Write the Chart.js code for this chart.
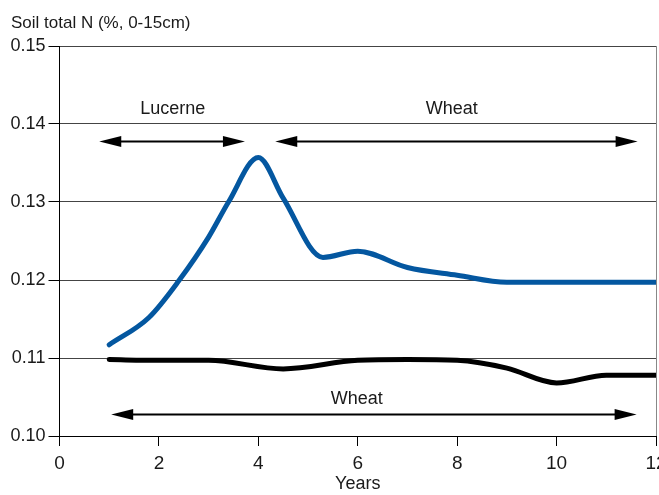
<!DOCTYPE html>
<html>
<head>
<meta charset="utf-8">
<script src="https://cdn.jsdelivr.net/npm/chart.js@4.4.1/dist/chart.umd.min.js"></script>
<style>
    html, body { margin: 0; padding: 0; background: #fff; }
    #wrap { width: 659px; height: 495px; position: relative; }
</style>
</head>
<body>
<div id="wrap"><canvas id="soilChart"></canvas></div>
<script>
// ---- data ----
var lucerneYears = [1, 1.8, 2.4, 3, 3.4, 4, 4.5, 5.3, 6, 7, 8, 9, 10, 11, 12];
var lucerneN     = [0.1117, 0.1152, 0.1199, 0.1255, 0.1300, 0.1357, 0.1305, 0.1229, 0.1237, 0.1216, 0.1206, 0.1197, 0.1197, 0.1197, 0.1197];

var wheatYears = [1, 2, 3, 4.5, 6, 7, 8, 9, 10, 11, 12];
var wheatN     = [0.1098, 0.1097, 0.1097, 0.1086, 0.1097, 0.1098, 0.1097, 0.1087, 0.1068, 0.1078, 0.1078];

var yTicks = [0.10, 0.11, 0.12, 0.13, 0.14, 0.15];
var xTicks = [0, 2, 4, 6, 8, 10, 12];

var yAxisTitle = 'Soil total N (%, 0-15cm)';
var xAxisTitle = 'Years';

// phase arrows (in data units): label, start year, end year, arrow level, label level
var phaseLabels = ['Lucerne', 'Wheat', 'Wheat'];
var phaseFrom   = [0.80, 4.34, 1.04];
var phaseTo     = [3.73, 11.63, 11.61];
var phaseArrowY = [0.1378, 0.1378, 0.1028];
var phaseTextX  = [2.28, 7.89, 5.98];
var phaseTextY  = [0.1419, 0.1419, 0.1047];

var FONT = '"Liberation Sans", Arial, sans-serif';

function toPoints(xs, ys) {
    return xs.map(function(x, i) { return { x: x, y: ys[i] }; });
}

function arrowHead(ctx, tipX, y, dir) {
    var len = 22, half = 5.5;
    ctx.beginPath();
    ctx.moveTo(tipX, y);
    ctx.lineTo(tipX - dir * len, y - half);
    ctx.lineTo(tipX - dir * len, y + half);
    ctx.closePath();
    ctx.fill();
}

var annotationsPlugin = {
    id: 'phaseAnnotations',
    afterDatasetsDraw: function(chart) {
        var ctx = chart.ctx;
        var xs = chart.scales.x, ys = chart.scales.y;
        ctx.save();
        ctx.strokeStyle = '#000';
        ctx.fillStyle = '#000';
        ctx.lineWidth = 2;
        for (var i = 0; i < phaseLabels.length; i++) {
            var x1 = xs.getPixelForValue(phaseFrom[i]);
            var x2 = xs.getPixelForValue(phaseTo[i]);
            var y = Math.round(ys.getPixelForValue(phaseArrowY[i])) + 0.5;
            ctx.beginPath();
            ctx.moveTo(x1 + 10, y);
            ctx.lineTo(x2 - 10, y);
            ctx.stroke();
            arrowHead(ctx, x1, y, -1);
            arrowHead(ctx, x2, y, 1);

            ctx.font = '18px ' + FONT;
            ctx.fillStyle = '#1a1a1a';
            ctx.textAlign = 'center';
            ctx.textBaseline = 'middle';
            ctx.fillText(phaseLabels[i], xs.getPixelForValue(phaseTextX[i]), ys.getPixelForValue(phaseTextY[i]));
            ctx.fillStyle = '#000';
        }
        // y axis title, written horizontally above the axis
        ctx.font = '17px ' + FONT;
        ctx.fillStyle = '#1a1a1a';
        ctx.textAlign = 'left';
        ctx.textBaseline = 'alphabetic';
        ctx.fillText(yAxisTitle, 11, 28);
        ctx.restore();
    }
};

var ctx = document.getElementById('soilChart').getContext('2d');
var soilChart = new Chart(ctx, {
    type: 'line',
    data: {
        datasets: [{
            label: 'Lucerne then wheat',
            data: toPoints(lucerneYears, lucerneN),
            borderColor: '#0457a0',
            borderWidth: 5,
            borderCapStyle: 'round',
            pointRadius: 0,
            cubicInterpolationMode: 'monotone',
            fill: false
        }, {
            label: 'Continuous wheat',
            data: toPoints(wheatYears, wheatN),
            borderColor: '#000',
            borderWidth: 5,
            borderCapStyle: 'round',
            pointRadius: 0,
            cubicInterpolationMode: 'monotone',
            fill: false
        }]
    },
    options: {
        responsive: true,
        maintainAspectRatio: false,
        animation: false,
        layout: { padding: { left: 0, top: 46, right: 3, bottom: 0 } },
        plugins: {
            legend: { display: false },
            tooltip: { enabled: false }
        },
        scales: {
            x: {
                type: 'linear',
                min: 0,
                max: 12,
                afterBuildTicks: function(scale) {
                    scale.ticks = xTicks.map(function(v) { return { value: v }; });
                },
                afterFit: function(scale) {
                    scale.height = 59;
                    scale.paddingRight = 0;
                    scale.paddingLeft = 0;
                },
                border: { color: '#000', width: 1 },
                grid: {
                    color: function(c) { return c.tick && c.tick.value === 12 ? '#888' : 'rgba(0,0,0,0)'; },
                    tickColor: '#000',
                    tickLength: 10,
                    lineWidth: 1
                },
                ticks: {
                    color: '#1a1a1a',
                    padding: 6,
                    font: { family: FONT, size: 19 }
                },
                title: {
                    display: true,
                    text: xAxisTitle,
                    color: '#1a1a1a',
                    padding: { top: 1, bottom: 0 },
                    font: { family: FONT, size: 18 }
                }
            },
            y: {
                min: 0.10,
                max: 0.15,
                afterBuildTicks: function(scale) {
                    scale.ticks = yTicks.map(function(v) { return { value: v }; });
                },
                afterFit: function(scale) { scale.width = 59.5; },
                border: { color: '#000', width: 1 },
                grid: {
                    color: '#444',
                    tickColor: '#000',
                    tickLength: 11,
                    lineWidth: 1
                },
                ticks: {
                    color: '#1a1a1a',
                    padding: 3,
                    font: { family: FONT, size: 18 },
                    callback: function(v) { return v.toFixed(2); }
                }
            }
        }
    },
    plugins: [annotationsPlugin]
});
</script>
</body>
</html>
